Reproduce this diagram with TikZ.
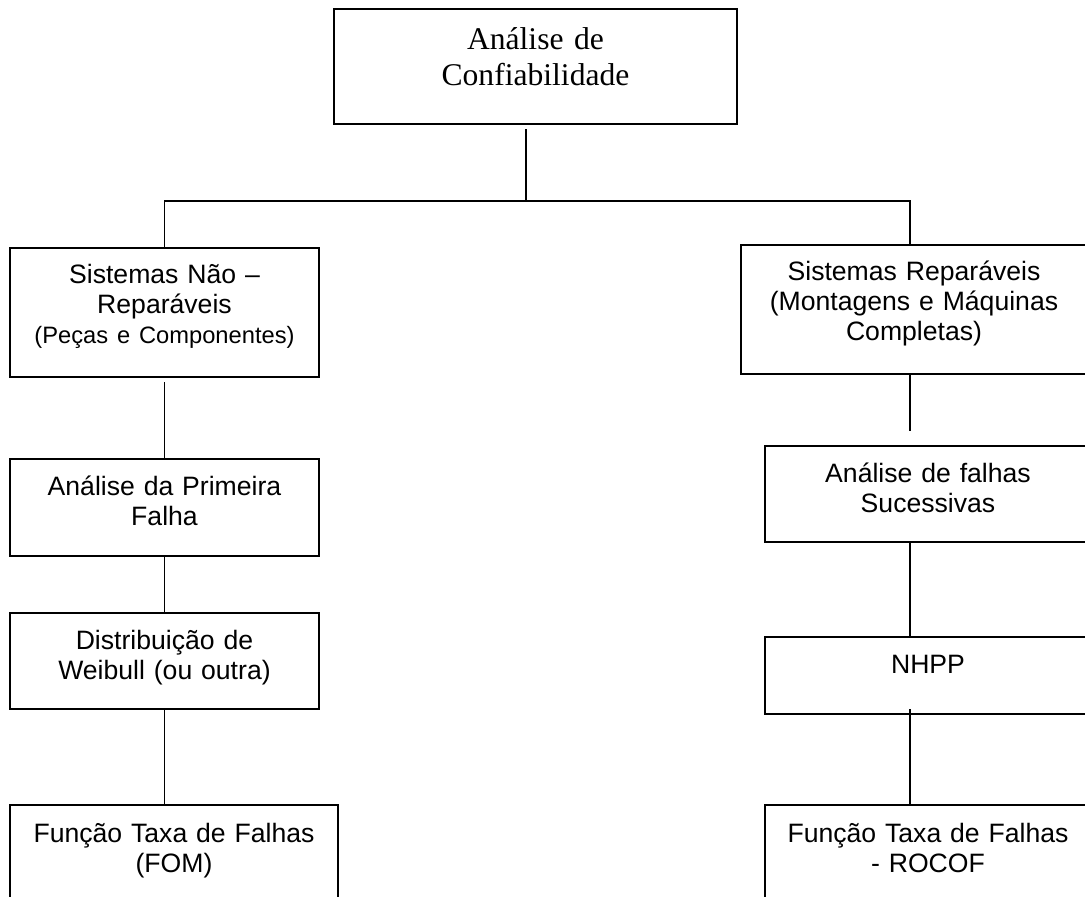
\documentclass[tikz,border=0pt]{standalone}
\usepackage{fontspec}
\setmainfont{Liberation Serif}
\setsansfont{Liberation Sans}
\usetikzlibrary{positioning}

\begin{document}
\begin{tikzpicture}
[x=1pt,y=-1pt,
 every node/.style={draw=black,line width=1.6pt,inner sep=0pt,outer sep=0pt,align=center,anchor=north,
   font=\sffamily\fontsize{26.6pt}{30pt}\selectfont},
 head/.style={font=\rmfamily\fontsize{31.6pt}{36pt}\selectfont},
 small/.style={},
 link/.style={line width=1.2pt}]
\useasboundingbox (0,0) rectangle (1085,897);
\clip (0,0) rectangle (1085,897);
\node[head] (conf) at (535.5,9) [text width=403pt,text height=40pt,text depth=75pt] {Análise de\\Confiabilidade};
\coordinate (bus) at (526,201);
% left column
\node (sysnr) at (164.5,248) [text width=309pt,text height=35pt,text depth=94pt]
  {Sistemas Não –\\Reparáveis\\{\fontsize{23.7pt}{29pt}\selectfont (Peças e Componentes)}};
\node (prim)  [below=82pt of sysnr,text width=309pt,text height=36pt,text depth=61pt] {Análise da Primeira\\Falha};
\node (weib)  [below=57pt of prim,text width=309pt,text height=36pt,text depth=60pt] {Distribuição de\\Weibull (ou outra)};
\node (fom)   [below=96pt of weib,xshift=9.5pt,text width=328pt,text height=37pt,text depth=73pt] {Função Taxa de Falhas\\(FOM)};
% right column
\node (sysr)  at (914,245) [text width=346pt,text height=35pt,text depth=94pt]
  {Sistemas Reparáveis\\(Montagens e Máquinas\\Completas)};
\node (suc)   [below=72pt of sysr,xshift=14pt,text width=326pt,text height=36pt,text depth=60pt] {Análise de falhas\\Sucessivas};
\node (nhpp)  [below=95pt of suc,text width=326pt,text height=36pt,text depth=41pt] {NHPP};
\node (rocof) [below=91pt of nhpp,text width=326pt,text height=37pt,text depth=73pt] {Função Taxa de Falhas\\- ROCOF};
% connectors
\path[link] ([shift={(-9.5,5)}]conf.south) edge (bus);
\draw[link] (sysnr.north) |- (bus) -| ([xshift=-4pt]sysr.north);
\draw[line width=2.5pt] ([xshift=-49pt]bus) -- ([xshift=5pt]bus);
\path[link] ([yshift=-5pt]sysnr.south) edge (prim.north);
\path[link] (prim.south) edge (weib.north);
\path[link] (weib.south) edge (weib.south |- fom.north);
\path[link] ([xshift=-4pt]sysr.south) edge ([xshift=-18pt,yshift=15pt]suc.north);
\path[link] ([xshift=-18pt]suc.south) edge ([xshift=-18pt]nhpp.north);
\path[link] ([xshift=-18pt,yshift=5pt]nhpp.south) edge ([xshift=-18pt]rocof.north);
\end{tikzpicture}
\end{document}
